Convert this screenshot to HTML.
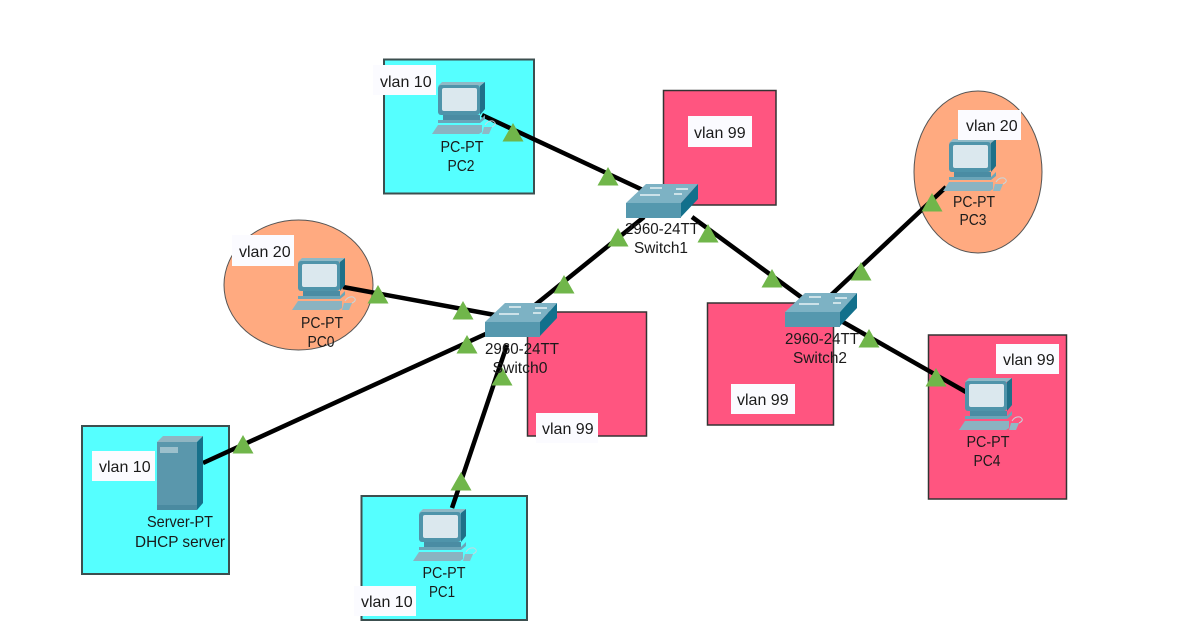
<!DOCTYPE html>
<html>
<head>
<meta charset="utf-8">
<style>
html,body{margin:0;padding:0;background:#fff;width:1177px;height:639px;overflow:hidden}
svg{display:block}
text{font-family:"Liberation Sans",sans-serif;font-size:16px;fill:#1a1a1a}
.c{text-anchor:middle}
.r{fill:#ff5580;stroke:#333;stroke-width:1.5}
.b{fill:#55ffff;stroke:#3c4f4f;stroke-width:2}
.o{fill:#ffaa80;stroke:#555;stroke-width:1}
.l{stroke:#000;stroke-width:4.5;fill:none}
.t{fill:#70b64a}
.w{fill:#fbfbff}
</style>
</head>
<body>
<svg width="1177" height="639" viewBox="0 0 1177 639" xmlns="http://www.w3.org/2000/svg">
<defs>
<g id="pc">
<polygon points="0,4 4,0 47,0 42,4" fill="#8fb9c6"/>
<polygon points="42,4 47,0 47,27 42,33" fill="#1f7088"/>
<rect x="0" y="3" width="42" height="30" rx="3" fill="#4f94aa"/>
<rect x="4" y="6" width="35" height="23" rx="2" fill="#dbe8ee"/>
<polygon points="5,33 42,33 42,38 5,38" fill="#4a8ca3"/>
<polygon points="0,38 42,38 47,33 47,37 42,41 0,41" fill="#6ba5b8"/>
<polygon points="0,43 44,43 44,50 41,52 -6,52" fill="#8ab3c1"/>
<polygon points="46,45 54,45 51,52 44,52" fill="#8fb9c6"/>
<path d="M47,43 Q50,38 55,39 Q60,42 54,45" fill="none" stroke="#c5d8df" stroke-width="1"/>
</g>
<g id="sw">
<polygon points="0,19 20,0 72,0 55,19" fill="#7db2c4"/>
<polygon points="55,19 72,0 72,15 55,33" fill="#12708c"/>
<rect x="0" y="19" width="55" height="15" fill="#5598ae"/>
<g stroke="#e8f2f5" stroke-width="1.5">
<line x1="24" y1="4" x2="36" y2="4"/>
<line x1="50" y1="5" x2="62" y2="5"/>
<line x1="14" y1="11" x2="34" y2="11"/>
<line x1="48" y1="10" x2="56" y2="10"/>
</g>
</g>
<polygon id="tr" points="0,-10 10.500,8.500 -10.500,8.500" class="t"/>
</defs>

<!-- Backgrounds -->
<rect class="b" x="384" y="59.500" width="150" height="134"/>
<rect class="r" x="663.500" y="90.500" width="112.500" height="114.500"/>
<ellipse class="o" cx="978" cy="172" rx="64" ry="81"/>
<ellipse class="o" cx="298.500" cy="285" rx="74.500" ry="65"/>
<rect class="r" x="527.500" y="312" width="119" height="124"/>
<rect class="r" x="707.500" y="303" width="126" height="122"/>
<rect class="r" x="928.500" y="335" width="138" height="164"/>
<rect class="b" x="82" y="426" width="147" height="148"/>
<rect class="b" x="361.500" y="496" width="165.500" height="124"/>

<!-- Links -->
<line class="l" x1="482" y1="115" x2="645" y2="191"/>
<line class="l" x1="343" y1="287" x2="495" y2="315"/>
<line class="l" x1="535" y1="305" x2="644" y2="217"/>
<line class="l" x1="692" y1="217" x2="805" y2="300"/>
<line class="l" x1="830" y1="296" x2="946" y2="187"/>
<line class="l" x1="843" y1="322" x2="966" y2="392"/>
<line class="l" x1="203" y1="463" x2="490" y2="332"/>
<line class="l" x1="452" y1="508" x2="507" y2="345"/>

<!-- Devices -->
<use href="#pc" x="438" y="82"/>
<use href="#pc" x="298" y="258"/>
<use href="#pc" x="949" y="139"/>
<use href="#pc" x="965" y="378"/>
<use href="#pc" x="419" y="509"/>

<use href="#sw" x="626" y="184"/>
<use href="#sw" x="485" y="303"/>
<use href="#sw" x="785" y="293"/>

<!-- Server -->
<polygon points="157,442 163,436 203,436 197,442" fill="#8fb5c2"/>
<polygon points="197,442 203,436 203,503 197,510" fill="#17708a"/>
<rect x="157" y="442" width="40" height="68" fill="#5a97ac"/>
<rect x="160" y="447" width="18" height="6" fill="#9cc0cc"/>
<rect x="157" y="505" width="40" height="5" fill="#4a8aa0"/>

<!-- Triangles -->
<use href="#tr" x="513" y="133"/>
<use href="#tr" x="608" y="177"/>
<use href="#tr" x="618" y="238"/>
<use href="#tr" x="564" y="285"/>
<use href="#tr" x="708" y="234"/>
<use href="#tr" x="772" y="279"/>
<use href="#tr" x="861" y="272"/>
<use href="#tr" x="932" y="203"/>
<use href="#tr" x="869" y="339"/>
<use href="#tr" x="936" y="378"/>
<use href="#tr" x="378" y="295"/>
<use href="#tr" x="463" y="311"/>
<use href="#tr" x="467" y="345"/>
<use href="#tr" x="243" y="445"/>
<use href="#tr" x="502" y="377"/>
<use href="#tr" x="461" y="482"/>

<!-- Note boxes -->
<rect class="w" x="373" y="65" width="63" height="30"/>
<text x="380" y="87">vlan 10</text>
<rect class="w" x="688" y="116" width="64" height="31"/>
<text x="694" y="138">vlan 99</text>
<rect class="w" x="958" y="110" width="63" height="30"/>
<text x="966" y="131">vlan 20</text>
<rect class="w" x="232" y="235" width="62" height="31"/>
<text x="239" y="257">vlan 20</text>
<rect class="w" x="536" y="413" width="62" height="30"/>
<text x="542" y="434">vlan 99</text>
<rect class="w" x="731" y="384" width="64" height="30"/>
<text x="737" y="405">vlan 99</text>
<rect class="w" x="996" y="344" width="63" height="30"/>
<text x="1003" y="365">vlan 99</text>
<rect class="w" x="92" y="451" width="63" height="30"/>
<text x="99" y="472">vlan 10</text>
<rect class="w" x="354" y="586" width="62" height="30"/>
<text x="361" y="607">vlan 10</text>

<!-- Labels -->
<text class="c" x="462" y="152" textLength="43" lengthAdjust="spacingAndGlyphs">PC-PT</text>
<text class="c" x="461" y="171" textLength="27" lengthAdjust="spacingAndGlyphs">PC2</text>
<text class="c" x="662" y="234" textLength="74" lengthAdjust="spacingAndGlyphs">2960-24TT</text>
<text class="c" x="661" y="253" textLength="54" lengthAdjust="spacingAndGlyphs">Switch1</text>
<text class="c" x="974" y="207" textLength="42" lengthAdjust="spacingAndGlyphs">PC-PT</text>
<text class="c" x="973" y="225" textLength="27" lengthAdjust="spacingAndGlyphs">PC3</text>
<text class="c" x="322" y="328" textLength="42" lengthAdjust="spacingAndGlyphs">PC-PT</text>
<text class="c" x="321" y="347" textLength="27" lengthAdjust="spacingAndGlyphs">PC0</text>
<text class="c" x="522" y="354" textLength="74" lengthAdjust="spacingAndGlyphs">2960-24TT</text>
<text class="c" x="520" y="373" textLength="55" lengthAdjust="spacingAndGlyphs">Switch0</text>
<text class="c" x="822" y="344" textLength="74" lengthAdjust="spacingAndGlyphs">2960-24TT</text>
<text class="c" x="820" y="363" textLength="54" lengthAdjust="spacingAndGlyphs">Switch2</text>
<text class="c" x="988" y="447" textLength="43" lengthAdjust="spacingAndGlyphs">PC-PT</text>
<text class="c" x="987" y="466" textLength="27" lengthAdjust="spacingAndGlyphs">PC4</text>
<text class="c" x="180" y="527" textLength="66" lengthAdjust="spacingAndGlyphs">Server-PT</text>
<text class="c" x="180" y="547" textLength="90" lengthAdjust="spacingAndGlyphs">DHCP server</text>
<text class="c" x="444" y="578" textLength="43" lengthAdjust="spacingAndGlyphs">PC-PT</text>
<text class="c" x="442" y="597" textLength="26" lengthAdjust="spacingAndGlyphs">PC1</text>
</svg>
</body>
</html>
